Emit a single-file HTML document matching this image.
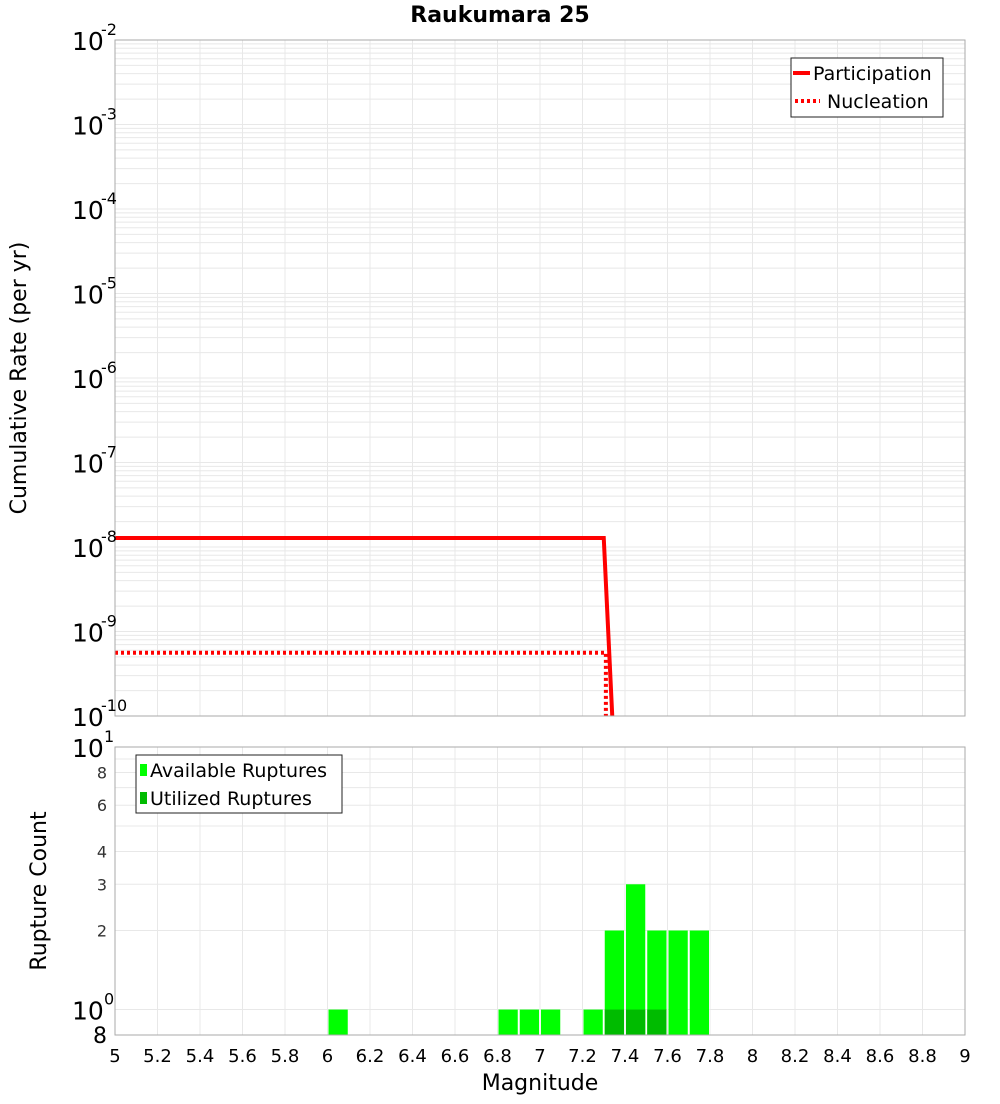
<!DOCTYPE html>
<html><head><meta charset="utf-8"><style>
body{margin:0;background:#fff;font-family:"DejaVu Sans","Liberation Sans",sans-serif;}
svg text{font-family:"DejaVu Sans","Liberation Sans",sans-serif;}
</style></head><body>
<svg id="c" width="1000" height="1100" xmlns="http://www.w3.org/2000/svg">
<text x="500" y="22" text-anchor="middle" font-size="22" font-weight="bold">Raukumara 25</text>
<g id="topG"></g>
<g id="botG"></g>
<text transform="translate(26,378) rotate(-90)" text-anchor="middle" font-size="22">Cumulative Rate (per yr)</text>
<text transform="translate(46,891) rotate(-90)" text-anchor="middle" font-size="22">Rupture Count</text>
<text x="540" y="1090" text-anchor="middle" font-size="22">Magnitude</text>
</svg>
<script>
const partMags=[5.0,7.3,7.34];
const partRates=[1.28e-8,1.28e-8,1e-10];
const nuclMags=[5.0,7.31,7.31];
const nuclRates=[5.6e-10,5.6e-10,1e-10];
const binCenters=[6.05,6.85,6.95,7.05,7.25,7.35,7.45,7.55,7.65,7.75];
const availCounts=[1,1,1,1,1,2,3,2,2,2];
const utilCenters=[7.35,7.45,7.55];
const utilCounts=[1,1,1];
const xTicks=[5,5.2,5.4,5.6,5.8,6,6.2,6.4,6.6,6.8,7,7.2,7.4,7.6,7.8,8,8.2,8.4,8.6,8.8,9];
const rateDecades=[-10,-9,-8,-7,-6,-5,-4,-3,-2];
const countTicks=[2,3,4,6,8];

const NS="http://www.w3.org/2000/svg";
const X0=115,X1=965;
const xs=m=>X0+(m-5)/4*(X1-X0);
const T0=40,T1=716;
const yt=v=>T1-(Math.log10(v)+10)/8*(T1-T0);
const B0=747,B1=1035;
const yb=v=>B1-(Math.log10(v)-Math.log10(0.8))/(1-Math.log10(0.8))*(B1-B0);
function el(p,tag,a){const e=document.createElementNS(NS,tag);for(const k in a)e.setAttribute(k,a[k]);p.appendChild(e);return e;}
const topG=document.getElementById('topG'),botG=document.getElementById('botG'),svg=document.getElementById('c');

el(topG,'rect',{x:X0,y:T0,width:X1-X0,height:T1-T0,fill:'#fff'});
for(let d=-10;d<-2;d++)for(let k=1;k<10;k++){const y=yt(k*Math.pow(10,d));
 const l=el(topG,'line',{x1:X0,x2:X1,y1:y,y2:y,stroke:'#e8e8e8','stroke-width':1});
 
 }
xTicks.forEach(t=>{const x=xs(t);
 const l=el(topG,'line',{x1:x,x2:x,y1:T0,y2:T1,stroke:'#e8e8e8'});
 
 
 const l2=el(botG,'line',{x1:x,x2:x,y1:B0,y2:B1,stroke:'#e8e8e8'});
 
 
 const tx=el(svg,'text',{x:x,y:1062,'text-anchor':'middle','font-size':18});
 tx.textContent=String(t);
 
 });
rateDecades.forEach(d=>{const y=yt(Math.pow(10,d));
 const t=el(svg,'text',{x:72,y:y+10,'font-size':25});
 t.textContent='10';
 
 
 const s=el(svg,'text',{x:101,y:y-5,'font-size':16});
 s.textContent=String(d);
 
 });
const pl=el(topG,'polyline',{points:partMags.map((m,i)=>xs(m)+','+yt(partRates[i])).join(' '),fill:'none',stroke:'#ff0000','stroke-width':4});


const nl=el(topG,'polyline',{points:nuclMags.map((m,i)=>xs(m)+','+yt(nuclRates[i])).join(' '),fill:'none',stroke:'#ff0000','stroke-width':4,'stroke-dasharray':'3,3'});


el(topG,'rect',{x:X0,y:T0,width:X1-X0,height:T1-T0,fill:'none',stroke:'#aaa'});
const lg=el(topG,'g',{});


el(lg,'rect',{x:791,y:58,width:152,height:59,fill:'#fff',stroke:'#222'});
el(lg,'line',{x1:793,x2:810,y1:73,y2:73,stroke:'#f00','stroke-width':4});
el(lg,'line',{x1:795,x2:820,y1:101,y2:101,stroke:'#f00','stroke-width':4,'stroke-dasharray':'3,3'});
let t1=el(lg,'text',{x:813,y:80,'font-size':19});t1.textContent='Participation';
let t2=el(lg,'text',{x:827,y:108,'font-size':19});t2.textContent='Nucleation';

for(let k=1;k<=10;k++){const y=yb(k);
 const l=el(botG,'line',{x1:X0,x2:X1,y1:y,y2:y,stroke:'#e8e8e8'});
 
 }
binCenters.forEach((c,i)=>{const b=el(botG,'rect',{x:xs(c-0.05)+1,y:yb(availCounts[i]),width:xs(5.1)-X0-2,height:B1-yb(availCounts[i]),fill:'#00ff00'});
 
 });
utilCenters.forEach((c,i)=>{const b=el(botG,'rect',{x:xs(c-0.05)+1,y:yb(utilCounts[i]),width:xs(5.1)-X0-2,height:B1-yb(utilCounts[i]),fill:'#00bb00'});
 
 });
el(botG,'rect',{x:X0,y:B0,width:X1-X0,height:B1-B0,fill:'none',stroke:'#aaa'});
countTicks.forEach(v=>{const t=el(svg,'text',{x:107,y:yb(v)+6,'text-anchor':'end','font-size':16,fill:'#333'});
 t.textContent=String(v);
 
 });
[[10,'1'],[1,'0']].forEach(([v,e])=>{const y=yb(v);
 const t=el(svg,'text',{x:72,y:y+10,'font-size':25});t.textContent='10';
 
 
 const s=el(svg,'text',{x:104,y:y-5,'font-size':16});s.textContent=e;
 
 });
let t8=el(svg,'text',{x:107,y:1043,'text-anchor':'end','font-size':22});t8.textContent='8';


const lg2=el(botG,'g',{});


el(lg2,'rect',{x:136,y:755,width:206,height:58,fill:'#fff',stroke:'#222'});
el(lg2,'rect',{x:140,y:764,width:7,height:12,fill:'#00ff00'});
el(lg2,'rect',{x:140,y:792,width:7,height:12,fill:'#00bb00'});
let t3=el(lg2,'text',{x:150,y:777,'font-size':19});t3.textContent='Available Ruptures';
let t4=el(lg2,'text',{x:150,y:805,'font-size':19});t4.textContent='Utilized Ruptures';
</script>
</body></html>
